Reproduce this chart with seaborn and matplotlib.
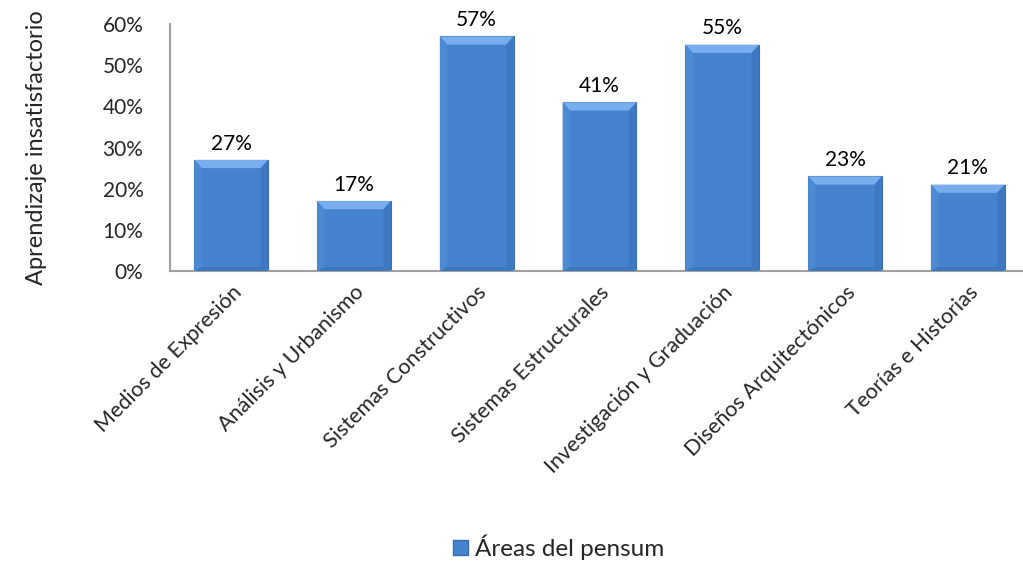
import matplotlib
matplotlib.use('Agg')
import matplotlib.pyplot as plt
from matplotlib.patches import Patch
import seaborn as sns
import pandas as pd

areas = ['Medios de Expresión', 'Análisis y Urbanismo', 'Sistemas Constructivos',
         'Sistemas Estructurales', 'Investigación y Graduación',
         'Diseños Arquitectónicos', 'Teorías e Historias']
valores = [0.27, 0.17, 0.57, 0.41, 0.55, 0.23, 0.21]
yticks = [0, 0.1, 0.2, 0.3, 0.4, 0.5, 0.6]
ytick_labels = ['0%', '10%', '20%', '30%', '40%', '50%', '60%']

df = pd.DataFrame({'area': areas, 'valor': valores})

sns.set_style('white')
plt.rcParams['font.family'] = ['Lato', 'DejaVu Sans']

fig = plt.figure(figsize=(10.23, 5.73), dpi=100)
ax = fig.add_axes([0.166, 0.527, 0.840, 0.431])

sns.barplot(data=df, x='area', y='valor', color='#4683CE', width=0.6,
            edgecolor='#3A6FB3', linewidth=0.8, saturation=1, ax=ax)

# bevel look: light top, slightly darker sides
bx, by = 0.06, 0.02
for p in ax.patches:
    x0, w, h = p.get_x(), p.get_width(), p.get_height()
    x1 = x0 + w
    ax.fill([x0, x1, x1 - bx, x0 + bx], [h, h, h - by, h - by],
            color='#78AEEE', lw=0, zorder=3)
    ax.fill([x0, x0 + bx, x0 + bx, x0], [h, h - by, by * 0.5, 0],
            color='#4D8AD4', lw=0, zorder=3)
    ax.fill([x1, x1 - bx, x1 - bx, x1], [h, h - by, by * 0.5, 0],
            color='#3E78C2', lw=0, zorder=3)
    ax.fill([x0, x1, x1 - bx, x0 + bx], [0, 0, by * 0.5, by * 0.5],
            color='#3F77BE', lw=0, zorder=3)

for i, v in enumerate(valores):
    ax.text(i, v + 0.015, f'{int(round(v * 100))}%', ha='center', va='bottom',
            fontsize=15, color='black')

ax.set_xlim(-0.5, 6.5)
ax.set_ylim(0, 0.6)
ax.set_yticks(yticks)
ax.set_yticklabels(ytick_labels, fontsize=15)
ax.tick_params(axis='y', length=0, pad=19)
ax.tick_params(axis='x', length=0, pad=8)
ax.set_xticks(range(len(areas)))
ax.set_xticklabels(areas, rotation=45, ha='right', rotation_mode='anchor', fontsize=15.5)
ax.set_xlabel('')
ax.set_ylabel('Aprendizaje insatisfactorio', fontsize=17, labelpad=40)

for s in ['top', 'right']:
    ax.spines[s].set_visible(False)
for s in ['left', 'bottom']:
    ax.spines[s].set_color('#A0A0A0')
    ax.spines[s].set_linewidth(1.5)

handle = Patch(facecolor='#4683CE', edgecolor='#3A6FB3')
fig.legend([handle], ['Áreas del pensum'], loc='center', bbox_to_anchor=(0.546, 0.045),
           frameon=False, fontsize=17.5, handlelength=0.6, handleheight=0.6,
           handletextpad=0.3)

fig.savefig('out.png', dpi=100)
